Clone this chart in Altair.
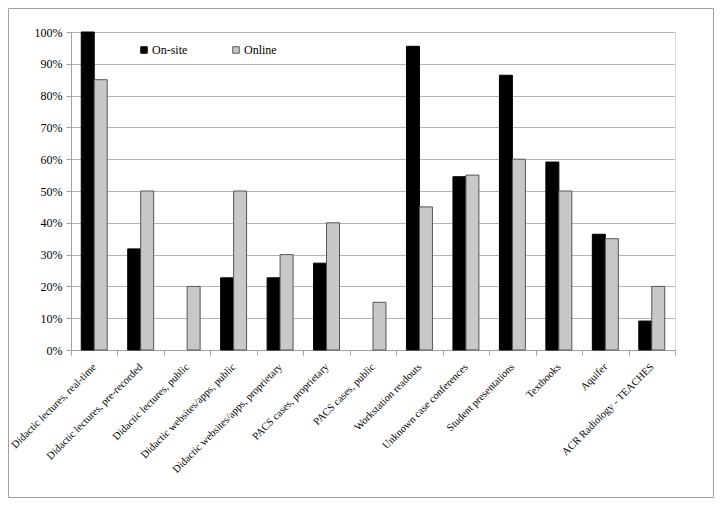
import altair as alt
import pandas as pd

categories = [
    "Didactic lectures, real-time",
    "Didactic lectures, pre-recorded",
    "Didactic lectures, public",
    "Didactic websites/apps, public",
    "Didactic websites/apps, proprietary",
    "PACS cases, proprietary",
    "PACS cases, public",
    "Workstation readouts",
    "Unknown case conferences",
    "Student presentations",
    "Textbooks",
    "Aquifer",
    "ACR Radiology - TEACHES",
]
onsite = [100, 31.8, 0, 22.7, 22.7, 27.3, 0, 95.5, 54.5, 86.4, 59.1, 36.4, 9.1]
online = [85, 50, 20, 50, 30, 40, 15, 45, 55, 60, 50, 35, 20]
series = ["On-site", "Online"]
y_ticks = [0, 0.1, 0.2, 0.3, 0.4, 0.5, 0.6, 0.7, 0.8, 0.9, 1.0]

rows = []
for c, a, b in zip(categories, onsite, online):
    rows.append({"cat": c, "series": "On-site", "value": a / 100})
    rows.append({"cat": c, "series": "Online", "value": b / 100})
df = pd.DataFrame(rows)

FONT = "Liberation Serif"

bars = alt.Chart(df).transform_filter(
    alt.datum.value > 0
).mark_bar(strokeWidth=1).encode(
    x=alt.X(
        "cat:N",
        sort=categories,
        scale=alt.Scale(domain=categories, paddingInner=0, paddingOuter=0),
        axis=alt.Axis(
            title=None,
            labelAngle=-45,
            labelAlign="right",
            labelBaseline="middle",
            labelPadding=10,
            tickBand="extent",
            tickSize=5,
            labelFontSize=10.6,
            labelLimit=300,
            grid=False,
        ),
    ),
    xOffset=alt.XOffset("series:N", sort=series, scale=alt.Scale(paddingInner=0, paddingOuter=0.79)),
    y=alt.Y(
        "value:Q",
        scale=alt.Scale(domain=[0, 1], nice=False),
        axis=alt.Axis(
            title=None,
            format=".0%",
            values=y_ticks,
            tickSize=5,
            labelPadding=4,
            labelFontSize=12,
            grid=True,
        ),
    ),
    color=alt.Color(
        "series:N",
        sort=series,
        scale=alt.Scale(domain=series, range=["#000000", "#c8c8c8"]),
        legend=alt.Legend(
            title=None,
            orient="none",
            legendX=67,
            legendY=12,
            direction="horizontal",
            symbolType="square",
            symbolSize=42,
            symbolStrokeColor="#444444",
            symbolStrokeWidth=1,
            labelFontSize=12,
            labelOffset=2,
            columnPadding=42,
        ),
    ),
    stroke=alt.Stroke(
        "series:N",
        sort=series,
        scale=alt.Scale(domain=series, range=["#000000", "#555555"]),
        legend=None,
    ),
)

frame = alt.Chart(pd.DataFrame({"a": [0]})).mark_rect(
    fill="transparent", stroke="#a0a0a0", strokeWidth=1
).encode(
    x=alt.value(-62.5), x2=alt.value(642.5), y=alt.value(-23.5), y2=alt.value(465.5)
)

chart = alt.layer(frame, bars).properties(
    width=604,
    height=318,
    autosize=alt.AutoSizeParams(type="none"),
    padding={"left": 63, "top": 24, "right": 39, "bottom": 148},
).configure_view(
    strokeWidth=0
).configure(
    background="white", font=FONT
).configure_axis(
    labelFont=FONT,
    labelColor="#000000",
    domainColor="#a0a0a0",
    tickColor="#a0a0a0",
    gridColor="#b4b4b4",
).configure_legend(
    labelFont=FONT,
    labelColor="#000000",
)

chart.save("out.html", embed_options={"renderer": "svg", "actions": False})
